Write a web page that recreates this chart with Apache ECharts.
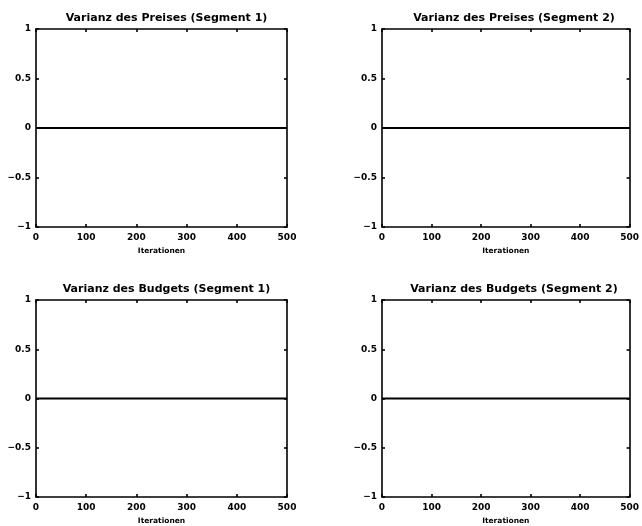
<!DOCTYPE html>
<html>
<head>
<meta charset="utf-8">
<script src="https://cdn.jsdelivr.net/npm/echarts@6/dist/echarts.min.js"></script>
<style>
  html, body { margin: 0; padding: 0; background: #fff; }
  #chart { width: 642px; height: 526px; }
</style>
</head>
<body>
<div id="chart"></div>
<script>
// Panel titles (row-major: top-left, top-right, bottom-left, bottom-right)
const panelTitles = [
  'Varianz des Preises (Segment 1)',
  'Varianz des Preises (Segment 2)',
  'Varianz des Budgets (Segment 1)',
  'Varianz des Budgets (Segment 2)'
];
const xAxisName = 'Iterationen';

// Iteration endpoints and the variance traces (constant zero)
const iterations = [0, 500];
const preisSeg1 = [0, 0];
const preisSeg2 = [0, 0];
const budgetSeg1 = [0, 0];
const budgetSeg2 = [0, 0];
const panelSeries = [preisSeg1, preisSeg2, budgetSeg1, budgetSeg2];

// Axis ranges / ticks
const xMin = 0, xMax = 500, xStep = 100;
const yMin = -1, yMax = 1, yStep = 0.5;

// Panel rectangles in pixels
const grids = [
  { left: 36,  top: 29,  width: 251, height: 198 },
  { left: 382, top: 29,  width: 254, height: 198 },
  { left: 36,  top: 300, width: 251, height: 198 },
  { left: 382, top: 300, width: 254, height: 198 }
];

const FONT = 'DejaVu Sans';
const axisLine = { show: true, onZero: false, lineStyle: { color: '#000', width: 1.6 } };
const tick = { show: true, inside: true, length: 3, lineStyle: { color: '#000', width: 1.6 } };
const fmtNum = v => String(v).replace('-', '\u2212');

const option = {
  animation: false,
  backgroundColor: '#fff',
  title: panelTitles.map((t, i) => ({
    text: t,
    left: grids[i].left + grids[i].width / 2,
    top: grids[i].top - 21,
    textAlign: 'center',
    textStyle: { fontFamily: FONT, fontWeight: 'bold', fontSize: 11, color: '#000' }
  })),
  grid: grids.map(g => Object.assign({ containLabel: false, show: false }, g)),
  xAxis: [],
  yAxis: [],
  series: []
};

grids.forEach((g, i) => {
  // bottom axis with labels
  option.xAxis.push({
    type: 'value', gridIndex: i, position: 'bottom',
    min: xMin, max: xMax, interval: xStep,
    name: xAxisName, nameLocation: 'middle', nameGap: 20,
    nameTextStyle: { fontFamily: FONT, fontSize: 7.5, fontWeight: 'bold', color: '#000' },
    axisLine: axisLine, axisTick: tick, splitLine: { show: false },
    axisLabel: { fontFamily: FONT, fontWeight: 'bold', fontSize: 9, color: '#000', margin: 6, formatter: fmtNum }
  });
  // top axis: box edge with inward ticks
  option.xAxis.push({
    type: 'value', gridIndex: i, position: 'top',
    min: xMin, max: xMax, interval: xStep,
    axisLine: axisLine, axisTick: tick, splitLine: { show: false },
    axisLabel: { show: false }
  });
  // left axis with labels
  option.yAxis.push({
    type: 'value', gridIndex: i, position: 'left',
    min: yMin, max: yMax, interval: yStep,
    axisLine: axisLine, axisTick: tick, splitLine: { show: false },
    axisLabel: { fontFamily: FONT, fontWeight: 'bold', fontSize: 9, color: '#000', margin: 5, formatter: fmtNum }
  });
  // right axis: box edge with inward ticks
  option.yAxis.push({
    type: 'value', gridIndex: i, position: 'right',
    min: yMin, max: yMax, interval: yStep,
    axisLine: axisLine, axisTick: tick, splitLine: { show: false },
    axisLabel: { show: false }
  });
  option.series.push({
    type: 'line',
    xAxisIndex: i * 2, yAxisIndex: i * 2,
    data: iterations.map((x, k) => [x, panelSeries[i][k]]),
    symbol: 'none',
    lineStyle: { color: '#000', width: 2.2 },
    silent: true
  });
});

const chart = echarts.init(document.getElementById('chart'), null, { renderer: 'canvas' });
chart.setOption(option);
</script>
</body>
</html>
